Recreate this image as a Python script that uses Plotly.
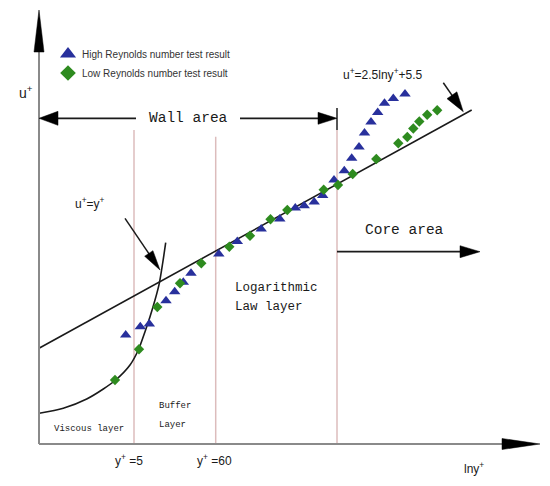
import math
import plotly.graph_objects as go

# ---------------- data (schematic units: lny+ horizontally, u+ vertically) ----------------
high_x = [86.7, 101.3, 110.3, 127, 135.7, 144.3, 152, 179.8, 198.3, 222.2, 240.8, 256.3, 265.2,
          275.2, 283.7, 295, 305.3, 312.7, 320, 325.5, 332, 338.7, 345.5, 354.3, 366]
high_y = [109, 117.3, 120, 143.3, 152.3, 161.7, 170.7, 190, 202.5, 215, 225, 236, 238.3,
          242, 248.5, 264, 273.3, 285.7, 297, 311, 322, 331.5, 340.7, 345.5, 350]
low_x = [76, 100, 118.3, 141, 162.3, 190.3, 211, 231.5, 248.3, 284.7, 299, 313.7, 337.3,
         359.3, 368.3, 374.3, 380.3, 388.2, 398.2]
low_y = [64, 94.7, 137, 160.7, 180.7, 197.3, 208.3, 224.7, 234, 254.3, 259, 270, 285,
         300.7, 307, 315.5, 322.5, 329.2, 333.8]
log_x = [0, 432.7]
log_y = [95.7, 334]
visc_x = [0.3, 24.3, 47.7, 64.3, 76.7, 91, 99.3, 106, 111, 116, 120.3, 123.7, 126.7]
visc_y = [30.7, 35.7, 45, 55, 64, 79, 94, 112.3, 127.3, 144, 160.7, 181, 201.3]
boundary_x = [95, 176.7, 298]
boundary_top = [314, 307.3, 316]

high_name = "High Reynolds number test result"
low_name = "Low Reynolds number test result"

BLUE = "#28309c"
GREEN = "#2e8b1f"
INK = "#1a1a1a"
MONO = "Liberation Mono, Courier New, monospace"
SANS = "Liberation Sans, Arial, sans-serif"

fig = go.Figure()

fig.add_trace(go.Scatter(x=log_x, y=log_y, mode="lines",
                         line=dict(color=INK, width=1.6), showlegend=False, hoverinfo="skip"))
fig.add_trace(go.Scatter(x=visc_x, y=visc_y, mode="lines",
                         line=dict(color=INK, width=1.6, shape="spline", smoothing=0.8),
                         showlegend=False, hoverinfo="skip"))
fig.add_trace(go.Scatter(x=high_x, y=high_y, mode="markers", name=high_name,
                         marker=dict(symbol="triangle-up", size=10, color=BLUE),
                         showlegend=False))
fig.add_trace(go.Scatter(x=low_x, y=low_y, mode="markers", name=low_name,
                         marker=dict(symbol="diamond", size=8, color=GREEN),
                         showlegend=False))

# manual legend
fig.add_trace(go.Scatter(x=[29], y=[390], mode="markers", showlegend=False, hoverinfo="skip",
                         marker=dict(symbol="triangle-up", size=14, color=BLUE)))
fig.add_trace(go.Scatter(x=[29], y=[371], mode="markers", showlegend=False, hoverinfo="skip",
                         marker=dict(symbol="diamond", size=12, color=GREEN)))

shapes = []

# region boundaries
for bx, bt in zip(boundary_x, boundary_top):
    shapes.append(dict(type="line", xref="x", yref="y", x0=bx, x1=bx, y0=0, y1=bt,
                       line=dict(color="#dcbcbc", width=1.5), layer="below"))
shapes.append(dict(type="line", xref="x", yref="y", x0=298, x1=298, y0=314, y1=336,
                   line=dict(color="#555555", width=2)))


def arrow(x0, y0, x1, y1, hl, hw, color=INK, width=1.8):
    dx, dy = x1 - x0, y1 - y0
    d = math.hypot(dx, dy)
    ux, uy = dx / d, dy / d
    nx, ny = -uy, ux
    bx, by = x1 - ux * hl, y1 - uy * hl
    shapes.append(dict(type="line", xref="x", yref="y", x0=x0, y0=y0, x1=bx + ux * 2, y1=by + uy * 2,
                       line=dict(color=color, width=width)))
    p = (f"M {x1},{y1} L {bx + nx * hw / 2},{by + ny * hw / 2} "
         f"L {bx - nx * hw / 2},{by - ny * hw / 2} Z")
    shapes.append(dict(type="path", xref="x", yref="y", path=p,
                       fillcolor="black", line=dict(color="black", width=0.5)))


# axes
arrow(0, 0, 0, 434, 42, 10, color="#8a8a8a", width=2)
arrow(0, 0, 501, 0, 38, 11, color="#8a8a8a", width=2)
# wall area
arrow(97, 325.7, 0, 325.7, 19, 14)
arrow(201, 325.7, 298, 325.7, 19, 12)
# core area
arrow(298, 192.3, 441, 192.3, 20, 12)
# labels of curves
arrow(86, 225.7, 121, 174, 20, 10, width=1.5)
arrow(404.3, 361.3, 424.3, 332.3, 20, 12, width=1.5)

ann = []


def text(x, y, s, size, font=SANS, anchor="left", color=INK):
    ann.append(dict(x=x, y=y, xref="x", yref="y", text=s, showarrow=False,
                    xanchor=anchor, yanchor="middle",
                    font=dict(family=font, size=size, color=color)))


text(41, 390, high_name, 10, color="#333333")
text(41, 371, low_name, 10, color="#333333")
text(-22, 352, "u<sup>+</sup>", 14)
text(149, 325.7, "Wall area", 14.5, MONO, anchor="center")
text(344, 370, "u<sup>+</sup>=2.5lny<sup>+</sup>+5.5", 12, anchor="center")
text(33.7, 241, "u<sup>+</sup>=y<sup>+</sup>", 12)
text(324, 214, "Core area", 14.5, MONO)
text(194, 156, "Logarithmic", 12.5, MONO)
text(194, 137, "Law layer", 12.5, MONO)
text(118, 38, "Buffer", 9, MONO)
text(118, 19, "Layer", 9, MONO)
text(13, 15, "Viscous layer", 9, MONO)
text(74, -16, "y<sup>+</sup> =5", 12)
text(156, -16, "y<sup>+</sup> =60", 12)
text(423, -24, "lny<sup>+</sup>", 12)

# the page body adds an 8px offset, so the figure is 8px smaller and its ranges start 8 units later
fig.update_layout(
    width=542, height=478, autosize=False,
    margin=dict(l=0, r=0, t=0, b=0),
    paper_bgcolor="white", plot_bgcolor="white",
    xaxis=dict(range=[-31, 511], visible=False, fixedrange=True),
    yaxis=dict(range=[-42, 436], visible=False, fixedrange=True),
    shapes=shapes, annotations=ann, showlegend=False,
)

fig.write_html("out.html")
